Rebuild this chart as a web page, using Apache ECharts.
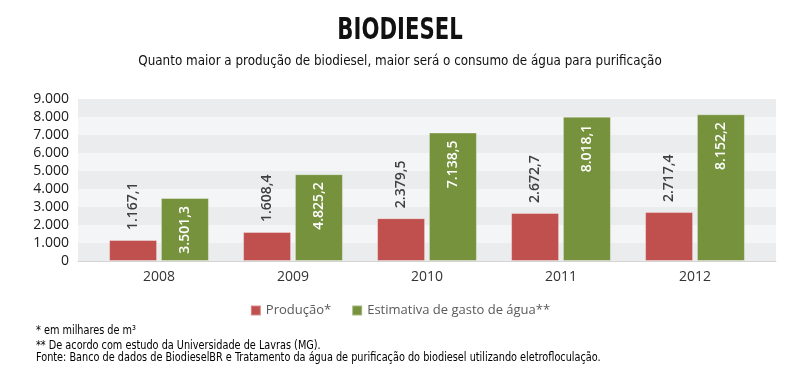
<!DOCTYPE html>
<html>
<head>
<meta charset="utf-8">
<script src="https://cdn.jsdelivr.net/npm/echarts@6/dist/echarts.min.js"></script>
<style>html,body{margin:0;padding:0;background:#fff}#c{width:800px;height:376px}</style>
</head>
<body>
<div id="c"></div>
<script>
const years = ['2008', '2009', '2010', '2011', '2012'];
const producao = [1167.1, 1608.4, 2379.5, 2672.7, 2717.4];
const agua = [3501.3, 4825.2, 7138.5, 8018.1, 8152.2];
const yTicks = [0, 1000, 2000, 3000, 4000, 5000, 6000, 7000, 8000, 9000];
const seriesNames = ['Produção*', 'Estimativa de gasto de água**'];
const titleText = 'BIODIESEL';
const subtitleText = 'Quanto maior a produção de biodiesel, maior será o consumo de água para purificação';
const notes = [
  '* em milhares de m³',
  '** De acordo com estudo da Universidade de Lavras (MG).',
  'Fonte: Banco de dados de BiodieselBR e Tratamento da água de purificação do biodiesel utilizando eletrofloculação.'
];

function fmtInt(v) {
  return String(Math.round(v)).replace(/\B(?=(\d{3})+(?!\d))/g, '.');
}
function fmtDec(v) {
  const p = v.toFixed(1).split('.');
  return p[0].replace(/\B(?=(\d{3})+(?!\d))/g, '.') + ',' + p[1];
}

const chart = echarts.init(document.getElementById('c'), null, {renderer: 'canvas'});
const FONT = '"Open Sans", "Noto Sans", sans-serif';
const COND = '"DejaVu Sans Condensed", "DejaVu Sans", sans-serif';
const noteYs = [331, 346, 358];
chart.setOption({
  animation: false,
  backgroundColor: '#ffffff',
  graphic: [
    {type: 'text', x: 400, y: 31, scaleX: 0.76,
     style: {text: titleText, font: 'bold 31px ' + COND, fill: '#111', align: 'center', verticalAlign: 'middle'}},
    {type: 'text', x: 400, y: 61, scaleX: 0.95,
     style: {text: subtitleText, font: '14px ' + COND, fill: '#111', align: 'center', verticalAlign: 'middle'}}
  ].concat(notes.map((t, i) => ({
    type: 'text', x: 36, y: noteYs[i], scaleX: 0.9,
    style: {text: t, font: '12px ' + COND, fill: '#000', align: 'left', verticalAlign: 'middle'}
  }))),
  legend: {
    top: 299, left: 'center',
    itemWidth: 10, itemHeight: 10, itemGap: 20, icon: 'rect',
    textStyle: {fontFamily: FONT, fontSize: 13, color: '#595959'},
    data: seriesNames
  },
  grid: [
    {left: 78, right: 24, top: 99, bottom: 115},
    {left: 92, right: 38, top: 99, bottom: 115}
  ],
  xAxis: [
    {gridIndex: 0, type: 'value', min: 0, max: 1, show: true,
     axisLine: {show: true, lineStyle: {color: '#D4D4D4', width: 1}},
     axisTick: {show: false}, axisLabel: {show: false}, splitLine: {show: false}},
    {gridIndex: 1, type: 'category', data: years,
     axisLine: {show: false}, axisTick: {show: false},
     axisLabel: {margin: 9, fontFamily: FONT, fontSize: 14, color: '#333'}}
  ],
  yAxis: [
    {gridIndex: 0, type: 'value', min: yTicks[0], max: yTicks[yTicks.length - 1], interval: 1000,
     axisLine: {show: false}, axisTick: {show: false}, splitLine: {show: false},
     splitArea: {show: true, areaStyle: {color: ['#EBECEE', '#F4F5F7']}},
     axisLabel: {margin: 9, fontFamily: FONT, fontSize: 14, color: '#1a1a1a', formatter: fmtInt}},
    {gridIndex: 1, type: 'value', min: yTicks[0], max: yTicks[yTicks.length - 1], interval: 1000, show: false,
     splitLine: {show: false}}
  ],
  series: [
    {name: seriesNames[0], type: 'bar', xAxisIndex: 1, yAxisIndex: 1, data: producao,
     barWidth: 48, barGap: '8%',
     itemStyle: {color: '#C0504D', borderColor: 'rgba(255,255,255,0.35)', borderWidth: 1},
     label: {show: true, position: 'top', rotate: 90, align: 'left', verticalAlign: 'middle', distance: 10,
       fontFamily: FONT, fontSize: 14, fontWeight: 600, color: '#404040', formatter: p => fmtDec(p.value)}},
    {name: seriesNames[1], type: 'bar', xAxisIndex: 1, yAxisIndex: 1, data: agua,
     barWidth: 48,
     itemStyle: {color: '#76923C', borderColor: 'rgba(255,255,255,0.35)', borderWidth: 1},
     label: {show: true, position: 'insideTop', rotate: 90, align: 'right', verticalAlign: 'middle', distance: 8,
       fontFamily: FONT, fontSize: 14, fontWeight: 600, color: '#ffffff', formatter: p => fmtDec(p.value)}}
  ]
});
</script>
</body>
</html>
